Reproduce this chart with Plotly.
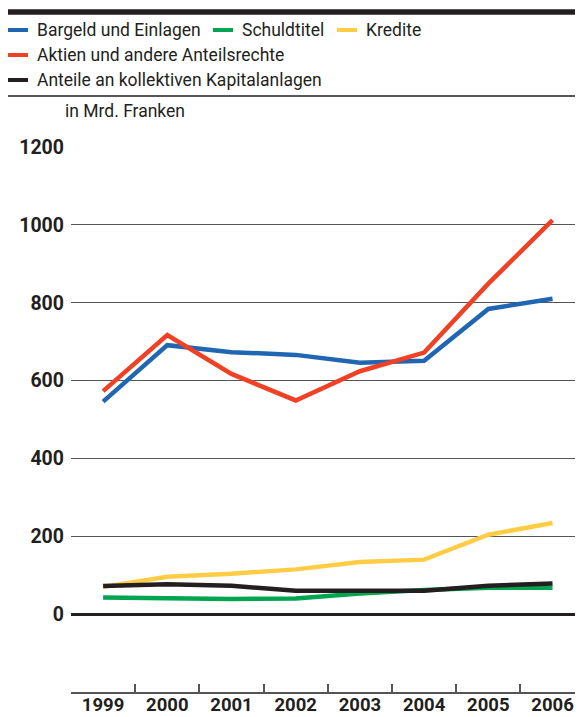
import plotly.graph_objects as go

years = ["1999", "2000", "2001", "2002", "2003", "2004", "2005", "2006"]
bargeld = [546, 691, 673, 666, 646, 651, 784, 810]
schuldtitel = [43, 41, 39, 40, 53, 62, 68, 68]
kredite = [70, 96, 104, 115, 134, 140, 204, 234]
aktien = [573, 717, 617, 549, 624, 672, 849, 1012]
anteile = [72, 77, 73, 60, 60, 60, 73, 79]
y_ticks = [0, 200, 400, 600, 800, 1000, 1200]

colors = {"Bargeld und Einlagen": "#2166b3", "Schuldtitel": "#00a550",
          "Kredite": "#ffcd45", "Aktien und andere Anteilsrechte": "#f04124",
          "Anteile an kollektiven Kapitalanlagen": "#231f20"}
series = {"Bargeld und Einlagen": bargeld, "Schuldtitel": schuldtitel,
          "Kredite": kredite, "Aktien und andere Anteilsrechte": aktien,
          "Anteile an kollektiven Kapitalanlagen": anteile}
draw_order = ["Schuldtitel", "Kredite", "Anteile an kollektiven Kapitalanlagen",
              "Bargeld und Einlagen", "Aktien und andere Anteilsrechte"]

# the page shows the figure offset by 8px (body margin); visible area ends at x=575
OFF = 8
W, H = 575 - OFF, 717 - OFF
PL, PR, PT, PB = 71, 575, 147, 692  # plot area in page pixels
TXT = "#231f20"
FONT = "Roboto"

fig = go.Figure()
for n in draw_order:
    fig.add_trace(go.Scatter(x=years, y=series[n], mode="lines", name=n,
                             line=dict(color=colors[n], width=4.5),
                             showlegend=False, hoverinfo="skip"))

def px2x(p):
    return (p - PL) / (PR - PL)

def px2y(p):
    return (PB - p) / (PB - PT)

shapes = []
annotations = []
shapes.append(dict(type="line", xref="paper", yref="paper", x0=px2x(8), x1=px2x(575),
                   y0=px2y(12), y1=px2y(12), line=dict(color=TXT, width=5.5)))
shapes.append(dict(type="line", xref="paper", yref="paper", x0=px2x(8), x1=px2x(575),
                   y0=px2y(96), y1=px2y(96), line=dict(color=TXT, width=1.5)))

legend_pos = [("Bargeld und Einlagen", 8, 30), ("Schuldtitel", 213, 30), ("Kredite", 337, 30),
              ("Aktien und andere Anteilsrechte", 8, 55), ("Anteile an kollektiven Kapitalanlagen", 8, 80)]
for n, x0, yc in legend_pos:
    shapes.append(dict(type="line", xref="paper", yref="paper", x0=px2x(x0), x1=px2x(x0 + 20),
                       y0=px2y(yc), y1=px2y(yc), line=dict(color=colors[n], width=4)))
    annotations.append(dict(xref="paper", yref="paper", x=px2x(x0 + 27), y=px2y(yc),
                            xanchor="left", yanchor="middle", text=n, showarrow=False,
                            font=dict(family=FONT, size=17.5, color=TXT)))

annotations.append(dict(xref="paper", yref="paper", x=px2x(63), y=px2y(111),
                        xanchor="left", yanchor="middle", text="in Mrd. Franken", showarrow=False,
                        font=dict(family=FONT, size=17.5, color=TXT)))

fig.update_layout(
    width=W, height=H,
    margin=dict(l=PL - OFF, r=0, t=PT - OFF, b=H - (PB - OFF), autoexpand=False),
    paper_bgcolor="white", plot_bgcolor="white",
    shapes=shapes, annotations=annotations,
    xaxis=dict(type="category", range=[-0.5, 7.35], tickson="boundaries",
               ticks="inside", ticklen=8, tickwidth=1.5, tickcolor="#555555",
               showline=True, linecolor="#555555", linewidth=1.5, showgrid=False,
               tickfont=dict(family=FONT, size=18.5, color=TXT, weight="bold"),
               ticklabelstandoff=-5, fixedrange=True),
    yaxis=dict(range=[-200, 1200], tickvals=y_ticks, showgrid=True,
               gridcolor="#555555", gridwidth=1.2, zeroline=True, zerolinecolor=TXT,
               zerolinewidth=2.5, showline=False, ticks="",
               tickfont=dict(family=FONT, size=19.5, color=TXT, weight="bold"),
               ticklabelstandoff=6, fixedrange=True),
)

fig.write_html("out.html")
